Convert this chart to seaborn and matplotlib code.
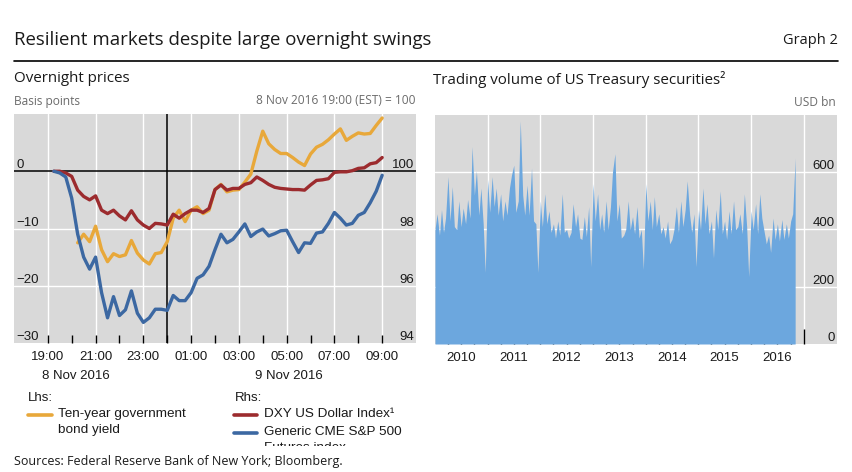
import numpy as np
import pandas as pd
import matplotlib
matplotlib.use("Agg")
import matplotlib.pyplot as plt
import matplotlib.dates as mdates
from matplotlib.patches import Rectangle
import seaborn as sns

# ---------------- data ----------------
# Overnight prices, 15-minute observations
fx_start = "2016-11-08 19:15"
# DXY US Dollar Index (rhs, 8 Nov 19:00 = 100)
dxy = [100.0, 100.0, 99.94, 99.82, 99.34, 99.12, 99.0, 99.14, 98.64, 98.52,
       98.64, 98.44, 98.3, 98.62, 98.3, 98.12, 98.0, 98.18, 98.16, 98.12,
       98.5, 98.36, 98.52, 98.64, 98.64, 98.56, 98.7, 99.36, 99.52, 99.34,
       99.4, 99.4, 99.54, 99.6, 99.8, 99.68, 99.54, 99.44, 99.4, 99.38,
       99.36, 99.36, 99.34, 99.52, 99.68, 99.7, 99.74, 99.96, 99.98, 99.98,
       100.02, 100.1, 100.12, 100.26, 100.3, 100.48]
# Generic CME S&P 500 Futures index (rhs)
spx = [100.0, 99.94, 99.8, 99.06, 97.8, 97.0, 96.58, 97.0, 95.76, 94.88,
       95.62, 94.96, 95.16, 95.82, 95.04, 94.72, 94.88, 95.18, 95.18, 95.14,
       95.66, 95.48, 95.48, 95.76, 96.26, 96.38, 96.68, 97.26, 97.8, 97.5,
       97.62, 97.88, 98.16, 97.72, 97.88, 97.98, 97.74, 97.82, 97.92, 97.94,
       97.54, 97.16, 97.5, 97.48, 97.84, 97.88, 98.18, 98.56, 98.36, 98.12,
       98.18, 98.46, 98.56, 98.9, 99.3, 99.86]
# Ten-year government bond yield (lhs, basis points)
yld_start = "2016-11-08 20:15"
yld = [-12.5, -11.0, -12.3, -9.6, -13.7, -15.8, -14.4, -14.9, -14.6, -12.1,
       -14.3, -15.5, -16.2, -14.4, -14.2, -12.3, -8.2, -6.8, -8.8, -6.8,
       -6.2, -7.4, -6.8, -3.2, -2.3, -3.6, -3.3, -3.2, -1.9, -0.5,
       3.5, 7.0, 4.8, 3.8, 3.1, 3.1, 2.4, 1.6, 1.0, 3.0,
       4.2, 4.7, 5.5, 6.5, 7.4, 5.4, 6.1, 6.7, 6.5, 6.6,
       8.0, 9.3]
series_names = ["Ten-year government\nbond yield", "DXY US Dollar Index¹",
                "Generic CME S&P 500\nFutures index"]
day_labels = ["8 Nov 2016", "9 Nov 2016"]

# Trading volume of US Treasury securities (USD bn), semi-monthly
vol_start = "2010-01-01"
volume = [
    # 2010
    400, 455, 380, 470, 390, 440, 585, 430, 550, 410, 400, 500,
    410, 475, 420, 505, 440, 690, 520, 605, 450, 545, 420, 250,
    # 2011
    575, 460, 585, 480, 545, 450, 525, 430, 500, 450, 545, 590,
    625, 460, 500, 780, 520, 450, 555, 450, 615, 430, 420, 250,
    # 2012
    500, 410, 525, 420, 465, 390, 420, 370, 430, 380, 525, 390,
    400, 370, 390, 490, 410, 455, 370, 365, 445, 375, 480, 270,
    # 2013
    560, 430, 525, 400, 455, 390, 500, 400, 480, 600, 665, 430,
    490, 370, 380, 400, 500, 400, 445, 385, 480, 370, 400, 260,
    # 2014
    560, 430, 500, 400, 515, 410, 455, 385, 410, 370, 430, 350,
    365, 400, 480, 390, 500, 410, 470, 570, 450, 390, 455, 270,
    # 2015
    470, 400, 545, 420, 490, 385, 430, 300, 470, 400, 535, 385,
    430, 365, 465, 385, 500, 400, 410, 455, 385, 525, 410, 235,
    # 2016
    465, 400, 490, 385, 525, 440, 390, 350, 380, 320, 440, 365,
    420, 360, 435, 365, 420, 370, 430, 455, 650,
]
year_labels = ["2010", "2011", "2012", "2013", "2014", "2015", "2016"]
vol_ticks = [0, 200, 400, 600]

# ---------------- style ----------------
YEL = "#e8a83a"
RED = "#9c2b2e"
BLU = "#3c68a2"
BAR = "#6ca7de"
BG = "#d9d9d9"
GREY = "#6b6b6b"
TXT = "#1a1a1a"

sns.set_theme(style="white")
plt.rcParams["font.family"] = ["Liberation Sans", "DejaVu Sans"]
TFONT = ["Open Sans", "DejaVu Sans"]

W, H = 853, 472
fig = plt.figure(figsize=(W / 100, H / 100), dpi=100)
fig.patch.set_facecolor("white")


def fx(x):
    return x / W


def fy(y):
    return 1 - y / H


# ---------------- left panel ----------------
ax = fig.add_axes([fx(14), fy(343), (416 - 14) / W, (343 - 114) / H])
ax.set_facecolor(BG)
for s in ax.spines.values():
    s.set_visible(False)

t_fx = pd.date_range(fx_start, periods=len(dxy), freq="15min")
t_y = pd.date_range(yld_start, periods=len(yld), freq="15min")
df_l = pd.DataFrame({"time": t_y, "value": yld, "series": series_names[0]})
df_r = pd.DataFrame({
    "time": list(t_fx) + list(t_fx),
    "value": dxy + spx,
    "series": [series_names[1]] * len(dxy) + [series_names[2]] * len(spx),
})

x0 = pd.Timestamp("2016-11-08 17:35")
x1 = pd.Timestamp("2016-11-09 10:25")

ax.axhline(-10, color="white", lw=1, zorder=1)
ax.axhline(-20, color="white", lw=1, zorder=1)
ax.axhline(0, color="black", lw=1.1, zorder=2)
ax.axvline(pd.Timestamp("2016-11-09 00:00"), color="black", lw=1.1, zorder=2)

sns.lineplot(data=df_l, x="time", y="value", ax=ax, color=YEL, lw=2.4,
             legend=False, zorder=3)
ax.xaxis.set_major_locator(mdates.HourLocator(byhour=[19, 21, 23, 1, 3, 5, 7, 9]))
ax.xaxis.set_minor_locator(mdates.HourLocator(byhour=[20, 22, 0, 2, 4, 6, 8]))
ax.xaxis.set_major_formatter(mdates.DateFormatter("%H:%M"))
ax.grid(which="major", axis="x", color="white", lw=1)
ax.set_axisbelow(True)
ax.set_xlim(x0, x1)
ax.set_ylim(-30, 10)
ax.set_xlabel("")
ax.set_ylabel("")
ax.tick_params(axis="x", which="both", direction="in", length=6, width=1,
               color="black", bottom=True, pad=6, labelsize=9.5, labelcolor=TXT)
ax.set_yticks([-30, -20, -10, 0])
ax.tick_params(axis="y", length=0, pad=-1.5, labelsize=9.5, labelcolor=TXT)
for lbl in ax.get_yticklabels():
    lbl.set_ha("left")
    lbl.set_va("bottom")

ax2 = ax.twinx()
for s in ax2.spines.values():
    s.set_visible(False)
sns.lineplot(data=df_r, x="time", y="value", hue="series",
             palette={series_names[1]: RED, series_names[2]: BLU},
             ax=ax2, lw=2.4, legend=False)
ax2.set_ylim(94, 102)
ax2.set_xlim(x0, x1)
ax2.set_ylabel("")
ax2.set_yticks([94, 96, 98, 100])
ax2.tick_params(axis="y", length=0, pad=-1.5, labelsize=9.5, labelcolor=TXT)
for lbl in ax2.get_yticklabels():
    lbl.set_ha("right")
    lbl.set_va("bottom")
ax2.grid(False)

# ---------------- right panel ----------------
ax3 = fig.add_axes([fx(435), fy(344), (837 - 435) / W, (344 - 115) / H])
ax3.set_facecolor(BG)
for s in ax3.spines.values():
    s.set_visible(False)
d_vol = pd.date_range(vol_start, periods=len(volume), freq="SMS")
ax3.fill_between(d_vol, 0, volume, color=BAR, linewidth=0, zorder=2)
ax3.set_xlim(pd.Timestamp("2010-01-01"), pd.Timestamp("2017-08-18"))
ax3.set_ylim(0, 800)
for v in vol_ticks[1:]:
    ax3.axhline(v, color="white", lw=1, zorder=1)
years = [pd.Timestamp(f"{y}-01-01") for y in range(2011, 2018)]
ax3.set_xticks(years)
ax3.set_xticklabels([""] * len(years))
quarters = []
qlabels = []
for yl in year_labels:
    for m in (4, 7, 10):
        quarters.append(pd.Timestamp(f"{yl}-{m:02d}-01"))
        qlabels.append(yl if m == 7 else "")
ax3.set_xticks(quarters, qlabels, minor=True)
ax3.grid(which="major", axis="x", color="white", lw=1, zorder=1)
ax3.set_axisbelow(True)
ax3.tick_params(axis="x", which="major", direction="in", length=11, width=1,
                color="black", bottom=True)
ax3.tick_params(axis="x", which="minor", direction="in", length=5, width=1,
                color="black", bottom=True, pad=6, labelsize=9.5, labelcolor=TXT)
ax3.yaxis.tick_right()
ax3.set_yticks(vol_ticks)
ax3.tick_params(axis="y", length=0, pad=-1.5, labelsize=9.5, labelcolor=TXT)
for lbl in ax3.get_yticklabels():
    lbl.set_ha("right")
    lbl.set_va("bottom")
ax3.grid(False, axis="y")

# ---------------- texts ----------------
fig.text(fx(14), fy(40), "Resilient markets despite large overnight swings",
         fontsize=13.4, family=TFONT, color=TXT, va="center", ha="left")
fig.text(fx(838), fy(40), "Graph 2", fontsize=10.5, family=TFONT, color=TXT,
         va="center", ha="right")
fig.add_artist(plt.Line2D([fx(14), fx(838)], [fy(61), fy(61)], color="black",
                          lw=1.2, transform=fig.transFigure))
fig.text(fx(14), fy(79), "Overnight prices", fontsize=10.9, family=TFONT,
         color=TXT, va="center", ha="left")
fig.text(fx(433), fy(79), "Trading volume of US Treasury securities²",
         fontsize=10.9, family=TFONT, color=TXT, va="center", ha="left")
fig.text(fx(14), fy(101), "Basis points", fontsize=8.6, family=TFONT, color=GREY,
         va="center", ha="left")
fig.text(fx(416), fy(101), "8 Nov 2016 19:00 (EST) = 100", fontsize=8.6,
         family=TFONT, color=GREY, va="center", ha="right")
fig.text(fx(836), fy(103), "USD bn", fontsize=8.6, family=TFONT, color=GREY,
         va="center", ha="right")
fig.text(fx(76), fy(376), day_labels[0], fontsize=9.5, color=TXT,
         va="center", ha="center")
fig.text(fx(289), fy(376), day_labels[1], fontsize=9.5, color=TXT,
         va="center", ha="center")

# legend
fig.text(fx(28), fy(398), "Lhs:", fontsize=9.5, color=TXT, va="center", ha="left")
fig.text(fx(235), fy(398), "Rhs:", fontsize=9.5, color=TXT, va="center", ha="left")
fig.add_artist(plt.Line2D([fx(28), fx(52)], [fy(415), fy(415)], color=YEL, lw=2.6,
                          transform=fig.transFigure))
fig.add_artist(plt.Line2D([fx(234), fx(257)], [fy(415), fy(415)], color=RED, lw=2.6,
                          transform=fig.transFigure))
fig.add_artist(plt.Line2D([fx(234), fx(257)], [fy(433), fy(433)], color=BLU, lw=2.6,
                          transform=fig.transFigure))
legend_rows = [
    (58, 414, series_names[0]),
    (264, 414, series_names[1]),
    (264, 432, series_names[2]),
]
for lx, ly, name in legend_rows:
    for k, part in enumerate(name.split("\n")):
        fig.text(fx(lx), fy(ly + 16 * k), part, fontsize=9.7, color=TXT,
                 va="center", ha="left")
fig.add_artist(Rectangle((fx(255), fy(456)), fx(200), 10 / H, facecolor="white",
                         edgecolor="none", transform=fig.transFigure, zorder=10))
fig.text(fx(14), fy(462), "Sources: Federal Reserve Bank of New York; Bloomberg.",
         fontsize=9, family=TFONT, color=TXT, va="center", ha="left", zorder=11)

fig.savefig("out.png", dpi=100, facecolor="white")
